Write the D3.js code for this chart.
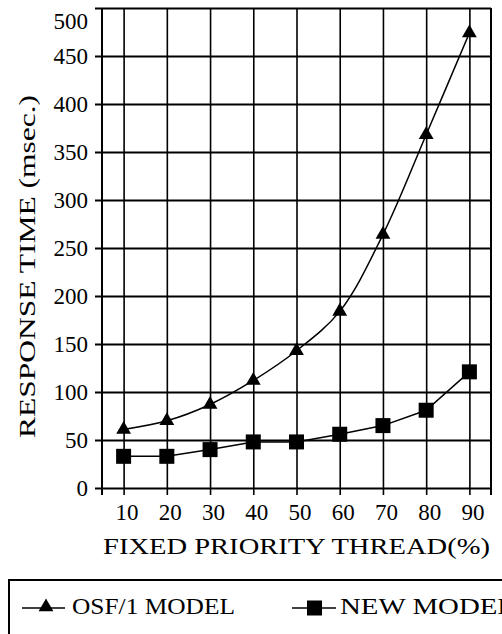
<!DOCTYPE html>
<html>
<head>
<meta charset="utf-8">
<script src="https://cdn.jsdelivr.net/npm/d3@7"></script>
<style>
  body { margin: 0; background: #fff; }
  svg text { font-family: "Liberation Serif", serif !important; fill: #000; }
</style>
</head>
<body>
<div class="chart"></div>
<script>
// values
const threadPct = [10, 20, 30, 40, 50, 60, 70, 80, 90];
const osfModel = [61, 70, 87, 112, 143, 184, 264, 368, 474];
const newModel = [33, 33, 40, 48, 48, 56, 65, 81, 121];
const yTicks = [0, 50, 100, 150, 200, 250, 300, 350, 400, 450, 500];
const legendNames = ["OSF/1 MODEL", "NEW MODEL"];

const width = 502, height = 634;
const svg = d3.select(".chart").append("svg")
  .attr("width", width)
  .attr("height", height)
  .attr("font-family", "Liberation Serif");

const x = d3.scaleLinear().domain([5, 95]).range([102, 491]);
const y = d3.scaleLinear().domain([0, 500]).range([488, 8]);

// horizontal grid + y labels
const yAxis = svg.append("g")
  .attr("transform", "translate(95,0)")
  .call(d3.axisLeft(y).tickValues(yTicks).tickSize(-(491 - 95)).tickPadding(7));
yAxis.select(".domain").remove();
yAxis.attr("font-family", "Liberation Serif");
yAxis.selectAll("line").attr("stroke", "#000").attr("stroke-width", 2);
yAxis.selectAll("text").style("font-size", "23px")
  .attr("dy", d => d === 500 ? "0.9em" : "0.32em");   // top label sits below the frame, like the scan

// vertical grid + x labels
const xAxis = svg.append("g")
  .attr("transform", "translate(0,495)")
  .call(d3.axisBottom(x).tickValues(threadPct).tickSize(-(495 - 8)).tickPadding(9));
xAxis.select(".domain").remove();
xAxis.attr("font-family", "Liberation Serif");
xAxis.selectAll("line").attr("stroke", "#000").attr("stroke-width", 1.6);
xAxis.selectAll("text").style("font-size", "23px").attr("dx", 3);

// plot frame
svg.append("line").attr("x1", x(5)).attr("x2", x(5)).attr("y1", y(500)).attr("y2", 495)
  .attr("stroke", "#000").attr("stroke-width", 2);
svg.append("line").attr("x1", x(95)).attr("x2", x(95)).attr("y1", y(500)).attr("y2", 495)
  .attr("stroke", "#000").attr("stroke-width", 2);

// axis titles
svg.append("text")
  .attr("transform", `translate(35,${(95 + 438) / 2}) rotate(-90)`)
  .attr("text-anchor", "middle")
  .attr("textLength", 343)
  .attr("lengthAdjust", "spacingAndGlyphs")
  .style("font-size", "24px")
  .text("RESPONSE TIME (msec.)");

svg.append("text")
  .attr("x", (103 + 490) / 2)
  .attr("y", 554)
  .attr("text-anchor", "middle")
  .attr("textLength", 387)
  .attr("lengthAdjust", "spacingAndGlyphs")
  .style("font-size", "24px")
  .text("FIXED PRIORITY THREAD(%)");

// series
const osfLine = d3.line().x((d, i) => x(threadPct[i])).y(d => y(d)).curve(d3.curveCatmullRom);
const newLine = d3.line().x((d, i) => x(threadPct[i])).y(d => y(d));

svg.append("path").datum(osfModel)
  .attr("d", osfLine).attr("fill", "none").attr("stroke", "#000").attr("stroke-width", 1.5);
svg.append("path").datum(newModel)
  .attr("d", newLine).attr("fill", "none").attr("stroke", "#000").attr("stroke-width", 1.5);

const tri = d3.symbol().type(d3.symbolTriangle).size(95);
svg.selectAll(".osf").data(osfModel).join("path")
  .attr("class", "osf")
  .attr("transform", (d, i) => `translate(${x(threadPct[i])},${y(d)})`)
  .attr("d", tri)
  .attr("fill", "#000");

const sq = 15;
svg.selectAll(".new").data(newModel).join("rect")
  .attr("class", "new")
  .attr("x", (d, i) => x(threadPct[i]) - sq / 2)
  .attr("y", d => y(d) - sq / 2)
  .attr("width", sq).attr("height", sq)
  .attr("fill", "#000");

// legend box (runs off the bottom/right of the picture)
const legend = svg.append("g");
legend.append("rect")
  .attr("x", 9).attr("y", 580)
  .attr("width", 520).attr("height", 80)
  .attr("fill", "none").attr("stroke", "#000").attr("stroke-width", 2);

const ly = 608;
legend.append("line").attr("x1", 22).attr("x2", 65).attr("y1", ly).attr("y2", ly)
  .attr("stroke", "#000").attr("stroke-width", 1.5);
legend.append("path").attr("transform", `translate(46,${ly - 1})`)
  .attr("d", tri).attr("fill", "#000");
legend.append("text").attr("x", 72).attr("y", 614)
  .attr("textLength", 163).attr("lengthAdjust", "spacingAndGlyphs")
  .style("font-size", "23px").text(legendNames[0]);

legend.append("line").attr("x1", 292).attr("x2", 336).attr("y1", ly).attr("y2", ly)
  .attr("stroke", "#000").attr("stroke-width", 1.5);
legend.append("rect").attr("x", 307).attr("y", ly - 7.5).attr("width", 15).attr("height", 15)
  .attr("fill", "#000");
legend.append("text").attr("x", 340).attr("y", 614)
  .attr("textLength", 175).attr("lengthAdjust", "spacingAndGlyphs")
  .style("font-size", "23px").text(legendNames[1]);
</script>
</body>
</html>
